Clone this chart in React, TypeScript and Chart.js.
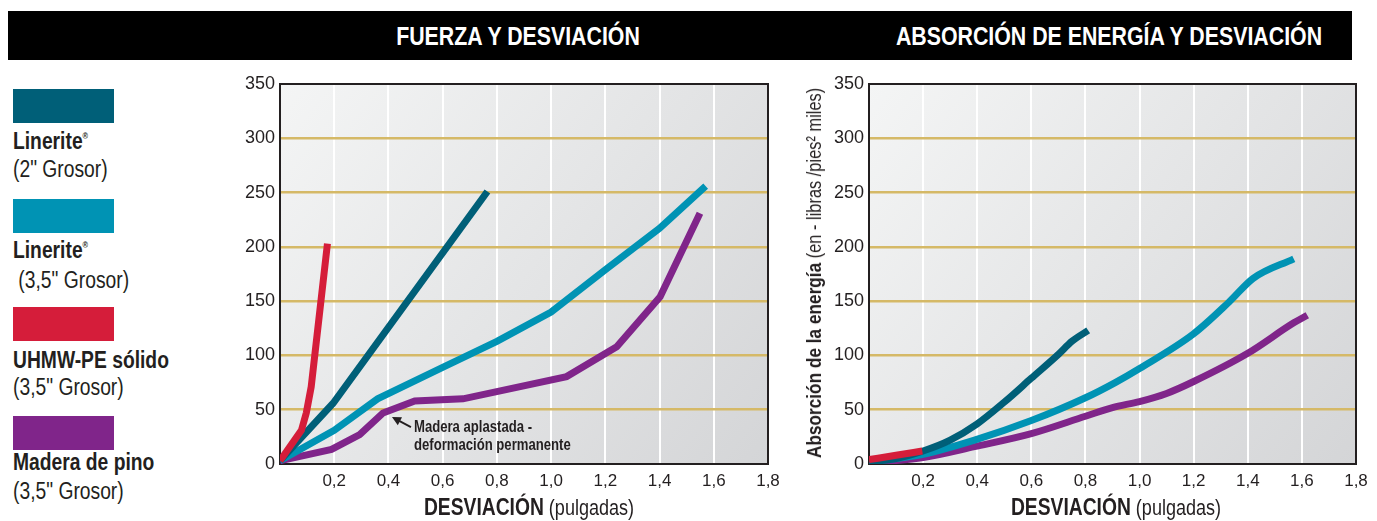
import React, { useEffect, useRef } from "react";
import { Chart, registerables } from "chart.js";

Chart.register(...registerables);

const FONT = "'Liberation Sans', Arial, sans-serif";
const INK = "#231f20";
const GOLD = "#d5b967";
const NARROW = 0.82;

const COLOR_LINERITE_2 = "#005f78";
const COLOR_LINERITE_35 = "#0093b4";
const COLOR_UHMW = "#d51d3a";
const COLOR_PINE = "#80258a";

// Axis ticks
const X_TICKS = [0.2, 0.4, 0.6, 0.8, 1.0, 1.2, 1.4, 1.6, 1.8];
const Y_TICKS = [0, 50, 100, 150, 200, 250, 300, 350];

// FUERZA Y DESVIACIÓN (force vs deflection)
const forceLinerite2X = [0, 0.196, 0.765];
const forceLinerite2Y = [3, 56, 251];
const forceLinerite35X = [0, 0.2, 0.36, 0.6, 0.8, 1.0, 1.2, 1.4, 1.57];
const forceLinerite35Y = [3, 31, 60, 89, 113, 140, 179, 217, 256];
const forceUhmwX = [0, 0.079, 0.097, 0.115, 0.175];
const forceUhmwY = [3, 31, 47, 71, 203];
const forcePineX = [0, 0.19, 0.294, 0.38, 0.497, 0.675, 1.057, 1.242, 1.402, 1.549];
const forcePineY = [3, 13.5, 27, 47, 58, 60, 80.5, 108, 154, 231];

// ABSORCIÓN DE ENERGÍA Y DESVIACIÓN (energy vs deflection)
const energyLinerite2X = [0, 0.1, 0.2, 0.3, 0.4, 0.5, 0.6, 0.7, 0.75, 0.81];
const energyLinerite2Y = [2, 5, 12, 22, 37, 57, 79, 101, 113, 123];
const energyLinerite35X = [0, 0.2, 0.39, 0.6, 0.8, 0.91, 1.0, 1.2, 1.33, 1.42, 1.57];
const energyLinerite35Y = [2, 9, 22, 40, 61, 75, 88, 120, 149, 171, 189];
const energyUhmwX = [0, 0.1, 0.197];
const energyUhmwY = [4, 8, 12];
const energyPineX = [0, 0.2, 0.39, 0.6, 0.8, 0.9, 1.0, 1.1, 1.2, 1.4, 1.57, 1.62];
const energyPineY = [1, 6, 16, 28, 44, 52, 57.5, 65, 76, 102, 130, 137];

// Annotation on the wood curve
const NOTE_LINES = ["Madera aplastada -", "deformación permanente"];
const NOTE_HEAD = [0.413, 43.3];
const NOTE_TAIL = [0.483, 34];

const pts = (xs: number[], ys: number[]) => xs.map((x, i) => ({ x, y: ys[i] }));

const framePlugin = {
  id: "plotFrame",
  beforeDraw(chart: any) {
    const { ctx, chartArea: a } = chart;
    const g = ctx.createLinearGradient(a.left, a.top, a.right, a.bottom);
    g.addColorStop(0, "#f4f5f5");
    g.addColorStop(1, "#d4d5d7");
    ctx.save();
    ctx.fillStyle = g;
    ctx.fillRect(a.left, a.top, a.right - a.left, a.bottom - a.top);
    ctx.restore();
  },
  beforeDatasetsDraw(chart: any) {
    const { ctx, chartArea: a } = chart;
    ctx.save();
    ctx.strokeStyle = INK;
    ctx.lineWidth = 2;
    ctx.strokeRect(a.left, a.top, a.right - a.left, a.bottom - a.top);
    ctx.restore();
  },
};

const notePlugin = {
  id: "woodNote",
  afterDatasetsDraw(chart: any) {
    const { ctx, scales } = chart;
    const hx = scales.x.getPixelForValue(NOTE_HEAD[0]);
    const hy = scales.y.getPixelForValue(NOTE_HEAD[1]);
    const tx = scales.x.getPixelForValue(NOTE_TAIL[0]);
    const ty = scales.y.getPixelForValue(NOTE_TAIL[1]);
    const ang = Math.atan2(hy - ty, hx - tx);
    ctx.save();
    ctx.strokeStyle = INK;
    ctx.fillStyle = INK;
    ctx.lineWidth = 1.8;
    ctx.beginPath();
    ctx.moveTo(tx, ty);
    ctx.lineTo(hx - Math.cos(ang) * 5, hy - Math.sin(ang) * 5);
    ctx.stroke();
    const L = 9, W = 4.5;
    const bx = hx - Math.cos(ang) * L, by = hy - Math.sin(ang) * L;
    ctx.beginPath();
    ctx.moveTo(hx, hy);
    ctx.lineTo(bx + Math.sin(ang) * W, by - Math.cos(ang) * W);
    ctx.lineTo(bx - Math.sin(ang) * W, by + Math.cos(ang) * W);
    ctx.closePath();
    ctx.fill();
    ctx.font = `bold 16px ${FONT}`;
    ctx.textBaseline = "middle";
    ctx.textAlign = "left";
    ctx.scale(NARROW, 1);
    ctx.fillText(NOTE_LINES[0], (tx + 3) / NARROW, ty + 1);
    ctx.fillText(NOTE_LINES[1], (tx + 3) / NARROW, ty + 19);
    ctx.restore();
  },
};

function makeScales(yWidth: number) {
  return {
    x: {
      type: "linear",
      min: 0,
      max: 1.8,
      afterBuildTicks: (s: any) => {
        s.ticks = X_TICKS.map((v) => ({ value: v }));
      },
      afterFit: (s: any) => {
        s.height = 40;
      },
      grid: {
        color: (c: any) => (c.tick && c.tick.value < 1.75 ? "#ffffff" : "rgba(0,0,0,0)"),
        lineWidth: 2,
        drawTicks: false,
      },
      border: { display: false },
      ticks: {
        font: { family: FONT, size: 17 },
        color: INK,
        padding: 7,
        maxRotation: 0,
        autoSkip: false,
        callback: (v: any) => Number(v).toFixed(1).replace(".", ","),
      },
    },
    y: {
      type: "linear",
      min: 0,
      max: 350,
      afterBuildTicks: (s: any) => {
        s.ticks = Y_TICKS.map((v) => ({ value: v }));
      },
      afterFit: (s: any) => {
        s.width = yWidth;
      },
      grid: {
        color: (c: any) => (c.tick && c.tick.value > 0 && c.tick.value < 350 ? GOLD : "rgba(0,0,0,0)"),
        lineWidth: 2.5,
        drawTicks: false,
      },
      border: { display: false },
      ticks: {
        font: { family: FONT, size: 18 },
        color: INK,
        padding: 5,
        autoSkip: false,
      },
    },
  };
}

function ds(label: string, color: string, xs: number[], ys: number[], smooth: boolean) {
  return {
    label,
    data: pts(xs, ys),
    borderColor: color,
    backgroundColor: color,
    borderWidth: 7,
    pointRadius: 0,
    fill: false,
    tension: 0,
    cubicInterpolationMode: smooth ? "monotone" : "default",
    borderCapStyle: "butt",
    borderJoinStyle: smooth ? "round" : "miter",
  };
}

function ChartCanvas(props: { datasets: any[]; yWidth: number; padRight: number; plugins: any[]; width: number; height: number; left: number; top: number }) {
  const ref = useRef<HTMLCanvasElement | null>(null);
  useEffect(() => {
    if (!ref.current) return;
    const chart = new Chart(ref.current, {
      type: "line",
      data: { datasets: props.datasets },
      options: {
        animation: false,
        responsive: false,
        maintainAspectRatio: false,
        devicePixelRatio: 1,
        layout: { padding: { top: 20, right: props.padRight, left: 0, bottom: 0 } },
        plugins: { legend: { display: false }, tooltip: { enabled: false } },
        scales: makeScales(props.yWidth) as any,
      } as any,
      plugins: props.plugins,
    });
    return () => chart.destroy();
  }, []);
  return (
    <canvas
      ref={ref}
      width={props.width}
      height={props.height}
      style={{ position: "absolute", left: props.left, top: props.top, width: props.width, height: props.height }}
    />
  );
}

const LEGEND = [
  { color: COLOR_LINERITE_2, name: "Linerite", reg: true, sub: "(2\" Grosor)", top: 89, nameY: 141, subY: 169 },
  { color: COLOR_LINERITE_35, name: "Linerite", reg: true, sub: "\u00a0(3,5\" Grosor)", top: 199, nameY: 250, subY: 280 },
  { color: COLOR_UHMW, name: "UHMW-PE sólido", reg: false, sub: "(3,5\" Grosor)", top: 307, nameY: 360, subY: 387 },
  { color: COLOR_PINE, name: "Madera de pino", reg: false, sub: "(3,5\" Grosor)", top: 416, nameY: 462, subY: 491 },
];

const centered = (x: number, y: number, extra = ""): React.CSSProperties => ({
  position: "absolute",
  left: x,
  top: y,
  transform: `translate(-50%,-50%) ${extra} scaleX(${NARROW})`,
  whiteSpace: "nowrap",
});

export default function App() {
  const forceSets = [
    ds("UHMW-PE sólido (3,5\" Grosor)", COLOR_UHMW, forceUhmwX, forceUhmwY, false),
    ds("Linerite® (2\" Grosor)", COLOR_LINERITE_2, forceLinerite2X, forceLinerite2Y, false),
    ds("Linerite® (3,5\" Grosor)", COLOR_LINERITE_35, forceLinerite35X, forceLinerite35Y, false),
    ds("Madera de pino (3,5\" Grosor)", COLOR_PINE, forcePineX, forcePineY, false),
  ];
  const energySets = [
    ds("UHMW-PE sólido (3,5\" Grosor)", COLOR_UHMW, energyUhmwX, energyUhmwY, true),
    ds("Linerite® (2\" Grosor)", COLOR_LINERITE_2, energyLinerite2X, energyLinerite2Y, true),
    ds("Linerite® (3,5\" Grosor)", COLOR_LINERITE_35, energyLinerite35X, energyLinerite35Y, true),
    ds("Madera de pino (3,5\" Grosor)", COLOR_PINE, energyPineX, energyPineY, true),
  ];
  const lineText = (y: number, size: number): React.CSSProperties => ({
    position: "absolute",
    left: 13,
    top: y - 13,
    height: 26,
    lineHeight: "26px",
    fontSize: size,
    whiteSpace: "nowrap",
    color: INK,
    transform: `scaleX(${NARROW})`,
    transformOrigin: "left center",
  });
  return (
    <div style={{ position: "absolute", left: 0, top: 0, width: 1377, height: 521, overflow: "hidden", fontFamily: FONT, background: "#ffffff" }}>
      <div style={{ position: "absolute", left: 8, top: 11, width: 1344, height: 49, background: "#000000" }} />
      <div style={{ ...centered(518, 36), color: "#fff", fontWeight: 700, fontSize: 26 }}>FUERZA Y DESVIACIÓN</div>
      <div style={{ ...centered(1109, 36), color: "#fff", fontWeight: 700, fontSize: 26 }}>ABSORCIÓN DE ENERGÍA Y DESVIACIÓN</div>

      {LEGEND.map((it, i) => (
        <React.Fragment key={i}>
          <div style={{ position: "absolute", left: 13, top: it.top, width: 101, height: 34, background: it.color }} />
          <div style={{ ...lineText(it.nameY, 23.5), fontWeight: 700 }}>
            {it.name}
            {it.reg ? <sup style={{ fontSize: 9, verticalAlign: "top", lineHeight: "16px" }}>®</sup> : null}
          </div>
          <div style={lineText(it.subY, 23.5)}>{it.sub}</div>
        </React.Fragment>
      ))}

      <ChartCanvas datasets={forceSets} yWidth={80} padRight={32} plugins={[framePlugin, notePlugin]} width={600} height={440} left={200} top={64} />
      <ChartCanvas datasets={energySets} yWidth={79} padRight={21} plugins={[framePlugin]} width={587} height={440} left={790} top={64} />

      <div style={{ ...centered(529, 508), color: INK, lineHeight: "26px" }}>
        <span style={{ fontWeight: 700, fontSize: 23.5 }}>DESVIACIÓN</span>
        <span style={{ fontSize: 22 }}> (pulgadas)</span>
      </div>
      <div style={{ ...centered(1116, 508), color: INK, lineHeight: "26px" }}>
        <span style={{ fontWeight: 700, fontSize: 23.5 }}>DESVIACIÓN</span>
        <span style={{ fontSize: 22 }}> (pulgadas)</span>
      </div>
      <div style={{ ...centered(815, 273, "rotate(-90deg)"), color: INK, lineHeight: "24px" }}>
        <span style={{ fontWeight: 700, fontSize: 21 }}>Absorción de la energía</span>
        <span style={{ fontSize: 20 }}> (en - libras /pies² miles)</span>
      </div>
    </div>
  );
}
